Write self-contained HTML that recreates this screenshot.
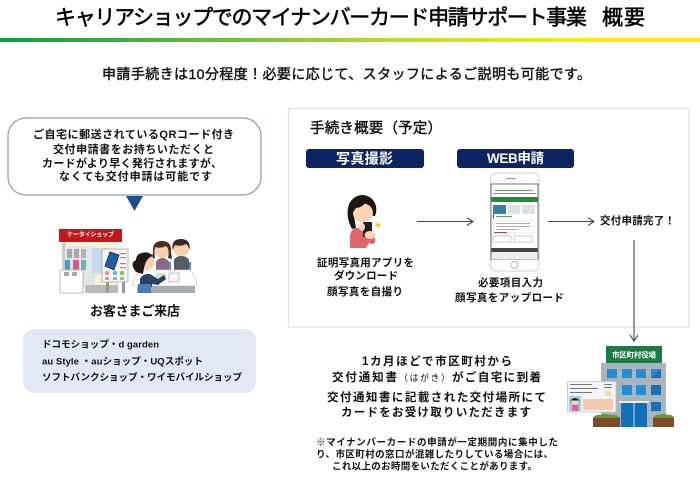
<!DOCTYPE html>
<html lang="ja"><head><meta charset="utf-8"><title>概要</title>
<style>
html,body{margin:0;padding:0;background:#fff;width:700px;height:480px;overflow:hidden}
svg{display:block;filter:blur(.3px)}
text{font-family:"Liberation Sans","Noto Sans CJK JP",sans-serif;fill:#111;dominant-baseline:central;font-weight:700;white-space:pre}
text.m{font-weight:400;stroke:#111;stroke-width:.4px}
text.t{font-weight:400;stroke:#000;stroke-width:.55px;fill:#000}
.ill{filter:blur(.3px)}
</style></head><body>
<svg width="700" height="480" viewBox="0 0 700 480" xmlns="http://www.w3.org/2000/svg">
<defs>
<linearGradient id="g" x1="0" x2="1" y1="0" y2="0"><stop offset="0" stop-color="#00a040"/><stop offset=".55" stop-color="#bcd92e"/><stop offset=".85" stop-color="#fdf000"/><stop offset="1" stop-color="#fff200"/></linearGradient>
<marker id="ah" markerWidth="10" markerHeight="10" refX="7" refY="4" orient="auto" markerUnits="userSpaceOnUse"><path d="M1 0L7 4L1 8" fill="none" stroke="#444" stroke-width="1.1"/></marker>
</defs>
<rect x="0" y="38" width="700" height="4" fill="url(#g)"/>
<text class="t" x="55" y="18" font-size="21" textLength="532">キャリアショップでのマイナンバーカード申請サポート事業</text>
<text class="t" x="602" y="18" font-size="21" textLength="43">概要</text>
<text class="m" x="102" y="74" font-size="14" textLength="489">申請手続きは10分程度！必要に応じて、スタッフによるご説明も可能です。</text>

<!-- callout -->
<rect x="8" y="118" width="253" height="77" rx="18" fill="#fff" stroke="#8a9bb5" stroke-width="1.2"/>
<path d="M126 196H143L134.500 211Z" fill="#1f4e8c"/>
<text x="33" y="135" font-size="11" textLength="201">ご自宅に郵送されているQRコード付き</text>
<text x="53" y="150" font-size="11" textLength="161">交付申請書をお持ちいただくと</text>
<text x="42" y="164" font-size="11" textLength="180">カードがより早く発行されますが、</text>
<text x="59" y="177" font-size="11" textLength="153">なくても交付申請は可能です</text>

<!-- shop illustration -->
<g class="ill">
<rect x="62" y="242" width="56" height="46" fill="#f7f3d6"/>
<rect x="62" y="242" width="4" height="46" fill="#c9ced3"/>
<rect x="65" y="246" width="30" height="40" fill="#e3e6e6"/>
<rect x="85" y="285" width="33" height="8" fill="#b7bbbd"/>
<rect x="59" y="229" width="63" height="13" fill="#c4161c"/>
<text x="67" y="235.500" font-size="6" textLength="47" style="fill:#fff">ケータイショップ</text>
<rect x="67" y="249" width="5" height="9" fill="#a8a8a8"/><rect x="74" y="249" width="5" height="9" fill="#a8a8a8"/><rect x="81" y="249" width="5" height="9" fill="#c4aab4"/>
<rect x="65" y="260" width="5" height="10" fill="#4a9bd0"/><rect x="73" y="260" width="6" height="10" fill="#d85a80"/><rect x="81" y="260" width="5" height="10" fill="#63b5b0"/>
<rect x="92" y="248" width="14" height="26" fill="#c3daf0"/>
<rect x="60" y="270" width="23" height="23" rx="1.500" fill="#fff" stroke="#bbb"/>
<rect x="64" y="272" width="5" height="4" fill="#aaa"/><rect x="72" y="272" width="5" height="4" fill="#aaa"/>
<rect x="106" y="282" width="3" height="11" fill="#999"/><rect x="122" y="282" width="3" height="11" fill="#999"/>
<rect x="102" y="249" width="26" height="33" fill="#f3f3f0" stroke="#aaa" stroke-width=".8"/>
<path d="M110 252L119 255L114 270L105 266Z" fill="#1f5faa" stroke="#222" stroke-width=".8"/>
<circle cx="107" cy="273" r="2.200" fill="#e88aa8"/><circle cx="115" cy="273" r="2.200" fill="#5cb3e0"/><circle cx="122" cy="273" r="2.200" fill="#85c04a"/>
<rect x="105" y="277" width="4" height="3" fill="#aaa"/><rect x="113" y="277" width="4" height="3" fill="#aaa"/><rect x="120" y="277" width="4" height="3" fill="#aaa"/>
<rect x="120" y="253" width="6" height="1.200" fill="#999"/><rect x="120" y="257" width="6" height="1.200" fill="#999"/><rect x="120" y="263" width="6" height="1.200" fill="#a070b0"/><rect x="120" y="267" width="6" height="1.200" fill="#999"/>
<!-- customers -->
<rect x="167" y="262" width="4" height="9" fill="#5b8fc0"/><rect x="188" y="262" width="3" height="9" fill="#5b8fc0"/>
<path d="M156 272V262Q158 258 162 258Q167 258 169 262V272Z" fill="#8a6a82"/>
<circle cx="162" cy="250" r="8" fill="#f7cfa8"/>
<path d="M153 252Q152 241 162 241Q172 241 171 252L172 259L168 258Q170 249 166 246Q160 249 155 247Q154 252 155 258L152 259Z" fill="#4a3020"/>
<path d="M174 272V260Q176 256 181 256Q187 256 189 260V272Z" fill="#565a62"/>
<circle cx="181" cy="248" r="8" fill="#f7cfa8"/>
<path d="M172.500 250Q171 239 181 239Q191 239 189.500 250Q188 245 186 244Q180 247 175 245Q174 247 172.500 250Z" fill="#332b24"/>
<!-- counter -->
<path d="M132 286Q134 276 140 270H190Q196 276 197 286Z" fill="#fff" stroke="#ccc" stroke-width=".8"/>
<rect x="137" y="286" width="58" height="7" fill="#a6adb1"/>
<rect x="156" y="273" width="10" height="8" fill="#cfe0e0"/><rect x="169" y="273" width="10" height="9" fill="#f5f5f5" stroke="#999" stroke-width=".6"/>
<!-- staff -->
<path d="M140 287V279Q143 273 150 274L158 279L164 275L166 279L158 285L152 284V287Z" fill="#2c4260"/>
<circle cx="147" cy="262" r="7.500" fill="#f7cfa8"/>
<path d="M139 254Q148 250 153 256Q146 258 144 268L143 274L136 272Q129 263 136 260Q136 256 139 254Z" fill="#1f1a17"/>
<rect x="138" y="284" width="13" height="9" fill="#4d7ab0"/>
</g>

<text x="90" y="311" font-size="13" textLength="90">お客さまご来店</text>
<rect x="23" y="329" width="233" height="64" rx="11" fill="#e2e8f5"/>
<text x="42" y="345" font-size="9.500" textLength="117">ドコモショップ・d garden</text>
<text x="42" y="362" font-size="9.500" textLength="161">au Style ・auショップ・UQスポット</text>
<text x="42" y="378" font-size="9.500" textLength="200">ソフトバンクショップ・ワイモバイルショップ</text>

<!-- panel -->
<rect x="288.500" y="108.500" width="400.500" height="218.500" fill="#fff" stroke="#e0e0e0" stroke-width="1.200"/>
<text class="m" x="310" y="129" font-size="14.500" textLength="132">手続き概要（予定）</text>
<rect x="306" y="149" width="118" height="19" rx="3" fill="#0c2461"/>
<rect x="457" y="149" width="117" height="19" rx="3" fill="#0c2461"/>
<text x="336" y="158.500" font-size="14" textLength="57" style="fill:#fff">写真撮影</text>
<text x="487" y="158.500" font-size="13.500" textLength="57" style="fill:#fff">WEB申請</text>

<!-- woman -->
<g class="ill">
<path d="M350 248V236Q351 228 358 228L368 232L375 238Q376 244 372 244L369 243L366 248Z" fill="#e0666d"/>
<path d="M352 229Q345 216 349 204Q354 195 363 195Q373 196 376 206Q377 212 375 216L354 216L356 228Z" fill="#1d1713"/>
<ellipse cx="363" cy="213" rx="10" ry="9.500" fill="#fbd6b2"/>
<path d="M353 212Q352 200 361 198Q372 198 374 212Q370 205 367 201Q362 208 356 208Q355 210 353 212Z" fill="#1d1713"/>
<rect x="363" y="222" width="9" height="15" rx="1" fill="#1b1f26"/>
<ellipse cx="370" cy="235" rx="5.500" ry="4" fill="#fbd6b2"/>
<ellipse cx="362" cy="227" rx="3" ry="4" fill="#fbd6b2"/>
<path d="M378 221L379 224L382 225L379 226L378 229L377 226L374 225L377 224Z" fill="#f6c619"/>
</g>
<text x="317" y="263" font-size="10.500" textLength="97">証明写真用アプリを</text>
<text x="334" y="276" font-size="10.500" textLength="64">ダウンロード</text>
<text x="327" y="292" font-size="10.500" textLength="76">顔写真を自撮り</text>

<!-- arrows -->
<line x1="417" y1="221.500" x2="473" y2="221.500" stroke="#444" stroke-width="1.100" marker-end="url(#ah)"/>
<line x1="548" y1="221.500" x2="594" y2="221.500" stroke="#444" stroke-width="1.100" marker-end="url(#ah)"/>
<text x="600" y="221" font-size="10.500" textLength="75">交付申請完了！</text>
<line x1="634" y1="240" x2="634" y2="341" stroke="#444" stroke-width="1.100" marker-end="url(#ah)"/>

<!-- phone -->
<g class="ill">
<rect x="490.500" y="173" width="48.500" height="98" rx="6" fill="#fff" stroke="#d0d0d0" stroke-width="1"/>
<rect x="491" y="184" width="47" height="75" fill="#fff" stroke="#666" stroke-width=".9"/>
<rect x="506" y="178" width="10" height="1.200" fill="#999"/>
<circle cx="514.500" cy="265" r="3.500" fill="#fff" stroke="#bbb"/>
<rect x="495" y="190" width="38" height="1" fill="#6a9a6a"/><rect x="493" y="193" width="43" height="1" fill="#888"/>
<rect x="491.500" y="197" width="46" height="5" fill="#1d8a35"/>
<rect x="493" y="205" width="13" height="9" fill="#2f7fa8"/><rect x="508" y="205" width="12" height="9" fill="#d8e2e8"/><rect x="522" y="205" width="13" height="9" fill="#d8e2e8"/>
<rect x="493" y="214" width="1" height="5" fill="#1d8a35"/><rect x="496" y="216" width="16" height="1.200" fill="#6a9a6a"/>
<rect x="494" y="221" width="40" height="12" fill="#fff" stroke="#ddd" stroke-width=".6"/>
<rect x="496" y="223" width="34" height="1" fill="#aaa"/><rect x="496" y="226" width="34" height="1" fill="#aaa"/><rect x="496" y="229" width="22" height="1" fill="#aaa"/>
<rect x="494" y="232" width="10" height="1" fill="#666"/><rect x="501" y="232" width="6" height="1" fill="#d33"/>
<rect x="493" y="236" width="18" height="6" fill="#fff" stroke="#9ab" stroke-width=".6"/><rect x="514" y="236" width="18" height="6" fill="#fff" stroke="#9ab" stroke-width=".6"/>
<rect x="491.500" y="248" width="46" height="4" fill="#444"/>
<rect x="491.500" y="252" width="46" height="7" fill="#eee"/>
</g>
<text x="478" y="283" font-size="10.500" textLength="65">必要項目入力</text>
<text x="455" y="298" font-size="10.500" textLength="109">顔写真をアップロード</text>

<!-- bottom text -->
<text x="362" y="362" font-size="11.500" textLength="150">1カ月ほどで市区町村から</text>
<text x="332" y="378" font-size="11.500" textLength="65">交付通知書</text>
<text x="399" y="378" font-size="9" textLength="51" style="font-weight:400">（はがき）</text>
<text x="452" y="378" font-size="11.500" textLength="89">がご自宅に到着</text>
<text x="327" y="398" font-size="11.500" textLength="219">交付通知書に記載された交付場所にて</text>
<text x="341" y="413" font-size="11.500" textLength="190">カードをお受け取りいただきます</text>
<text x="316" y="443" font-size="9.500" textLength="242">※マイナンバーカードの申請が一定期間内に集中した</text>
<text x="316" y="455" font-size="9.500" textLength="237">り、市区町村の窓口が混雑したりしている場合には、</text>
<text x="332" y="467" font-size="9.500" textLength="205">これ以上のお時間をいただくことがあります。</text>

<!-- building -->
<g class="ill">
<rect x="601" y="363" width="65" height="64" fill="#a9b4bd"/>
<rect x="606" y="346" width="56" height="17" fill="#1c7a45"/>
<text x="612" y="355" font-size="7.500" textLength="44" style="fill:#fff">市区町村役場</text>
<g fill="#1f8fd8">
<rect x="607" y="369" width="10" height="9"/><rect x="622" y="369" width="10" height="9"/><rect x="636" y="369" width="10" height="9"/>
<rect x="622" y="385" width="10" height="10"/><rect x="636" y="385" width="10" height="10"/>
</g>
<path d="M651 369h10v9h-10Z" fill="#1f8fd8"/><path d="M661 369v9h-10Z" fill="#1a6fb5"/>
<rect x="651" y="385" width="10" height="10" fill="#1a6fb5"/>
<rect x="651" y="402" width="10" height="9" fill="#1a6fb5"/>
<rect x="621" y="403" width="26" height="24" fill="#1270b8"/>
<rect x="619" y="401" width="30" height="2" fill="#e9edf0"/>
<line x1="634" y1="403" x2="634" y2="427" stroke="#cfd8de"/>
<rect x="593" y="417" width="27" height="10" fill="#7b4a28"/><path d="M593 418Q596 414 600 415Q606 413 611 415Q617 414 620 418Z" fill="#5f9a35"/>
<rect x="653" y="417" width="21" height="10" fill="#7b4a28"/><path d="M653 418Q656 414 659 415Q664 413 668 415Q672 414 674 418Z" fill="#5f9a35"/>
<rect x="567.500" y="381.500" width="48.500" height="30.500" rx="1.500" fill="#f2f5f7" stroke="#b8c2ca" stroke-width=".8"/>
<rect x="569" y="396" width="12" height="15" fill="#9fd0ea"/>
<circle cx="575" cy="401" r="3.800" fill="#fbd6b2"/><path d="M570 403a5 5 0 0 1 10 0l-1-2.500h-8Z" fill="#1d1713"/>
<rect x="572" y="405" width="6.500" height="6" fill="#e0609a"/>
<rect x="583" y="399" width="30" height="11" fill="#f7c9a8"/>
<rect x="605" y="391" width="6" height="5" fill="#f2dc90"/>
<g fill="#777"><rect x="570" y="384" width="22" height="1"/><rect x="570" y="388" width="28" height="1"/><rect x="570" y="392" width="22" height="1"/><rect x="604" y="384" width="8" height="1"/><rect x="604" y="387" width="8" height="1"/></g>
</g>
</svg>
</body></html>
